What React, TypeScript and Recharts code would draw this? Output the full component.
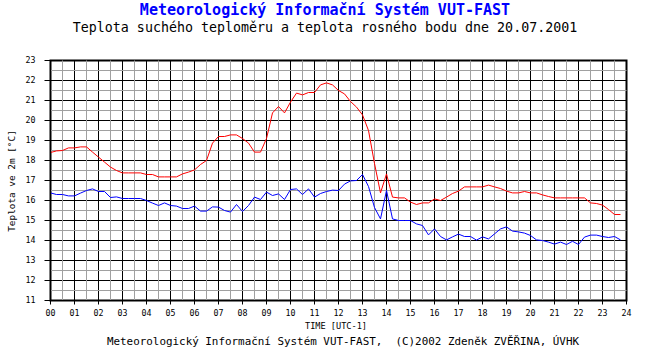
import { LineChart, Line, XAxis, YAxis, CartesianGrid, ReferenceArea, ReferenceLine } from 'recharts';

// 15-minute samples, 00:00 .. 23:45
const DRY_TEMP = [
  18.4, 18.48, 18.5, 18.63, 18.63, 18.68, 18.68, 18.42, // 00-01:45
  18.17, 17.92, 17.67, 17.5, 17.38, 17.38, 17.38, 17.38, // 02-03:45
  17.3, 17.3, 17.18, 17.18, 17.18, 17.18, 17.33, 17.42, // 04-05:45
  17.53, 17.8, 18.0, 18.87, 19.2, 19.2, 19.28, 19.28, // 06-07:45
  19.1, 18.87, 18.42, 18.42, 19.1, 20.38, 20.7, 20.38, // 08-09:45
  20.92, 21.37, 21.28, 21.4, 21.4, 21.78, 21.88, 21.78, // 10-11:45
  21.5, 21.33, 20.95, 20.67, 20.28, 19.5, 17.85, 16.38, // 12-13:45
  17.33, 16.17, 16.13, 16.13, 15.92, 15.8, 15.88, 15.88, // 14-15:45
  16.08, 16.0, 16.17, 16.35, 16.47, 16.68, 16.68, 16.68, // 16-17:45
  16.68, 16.77, 16.68, 16.6, 16.47, 16.38, 16.38, 16.45, // 18-19:45
  16.38, 16.38, 16.28, 16.2, 16.13, 16.13, 16.13, 16.13, // 20-21:45
  16.13, 16.13, 15.88, 15.85, 15.77, 15.55, 15.3, 15.3, // 22-23:45
];

const DEW_POINT = [
  16.38, 16.3, 16.3, 16.23, 16.23, 16.37, 16.5, 16.58,
  16.45, 16.45, 16.15, 16.18, 16.1, 16.1, 16.1, 16.1,
  16.0, 15.87, 15.75, 15.88, 15.75, 15.72, 15.6, 15.6,
  15.72, 15.47, 15.47, 15.68, 15.67, 15.5, 15.42, 15.8,
  15.45, 15.75, 16.17, 16.05, 16.42, 16.25, 16.33, 16.05,
  16.55, 16.58, 16.3, 16.58, 16.17, 16.35, 16.45, 16.52,
  16.5, 16.82, 16.98, 17.0, 17.3, 16.7, 15.65, 15.08,
  16.5, 15.08, 15.0, 15.0, 15.0, 14.83, 14.75, 14.28,
  14.58, 14.2, 14.03, 14.18, 14.32, 14.2, 14.2, 14.02,
  14.18, 14.08, 14.33, 14.58, 14.68, 14.47, 14.43, 14.37,
  14.25, 14.03, 14.0, 13.92, 13.82, 13.92, 13.8, 13.96,
  13.8, 14.17, 14.27, 14.27, 14.2, 14.15, 14.2, 14.03,
];

const HOUR_LABELS = [
  '00', '01', '02', '03', '04', '05', '06', '07', '08', '09', '10', '11', '12',
  '13', '14', '15', '16', '17', '18', '19', '20', '21', '22', '23', '24',
];
const HOUR_TICKS = HOUR_LABELS.map((_, i) => i);
const HALF_HOURS = HOUR_TICKS.slice(0, -1).map((h) => h + 0.5);

const TEMP_TICKS = [11, 12, 13, 14, 15, 16, 17, 18, 19, 20, 21, 22, 23];
const HALF_TEMPS = TEMP_TICKS.slice(0, -1).map((t) => t + 0.5);

const FONT = '"DejaVu Sans Mono", "Liberation Mono", monospace';
const MINOR = '#a0a0a0';

const data = DRY_TEMP.map((t, i) => ({
  time: i * 0.25,
  dry: t,
  dew: DEW_POINT[i],
}));

export default function App() {
  return (
    <div style={{ width: 650, height: 350, background: '#fff' }}>
      <style>{'body{margin:0}'}</style>
      <LineChart
        width={650}
        height={350}
        data={data}
        margin={{ top: 60.5, right: 23.5, bottom: 0, left: 10.5 }}
      >
        <XAxis
          type="number"
          dataKey="time"
          domain={[0, 24]}
          ticks={HOUR_TICKS}
          interval={0}
          height={49.5}
          tickSize={4}
          tickMargin={6}
          stroke="#000"
          tickFormatter={(v: number) => HOUR_LABELS[v]}
          tick={{ fill: '#000', fontSize: 8.3, fontFamily: FONT }}
        />
        <YAxis
          type="number"
          domain={[11, 23]}
          ticks={TEMP_TICKS}
          interval={0}
          width={40}
          tickSize={6}
          tickMargin={9}
          stroke="#000"
          tick={{ fill: '#000', fontSize: 8.3, fontFamily: FONT }}
        />

        {/* grey half-hour / half-degree grid */}
        {HALF_HOURS.map((h) => (
          <ReferenceLine key={'x' + h} x={h} stroke={MINOR} />
        ))}
        {HALF_TEMPS.map((t) => (
          <ReferenceLine key={'y' + t} y={t} stroke={MINOR} />
        ))}
        <CartesianGrid stroke="#000" />
        <ReferenceArea x1={0} x2={24} y1={11} y2={23} fill="none" stroke="#000" strokeWidth={2} ifOverflow="visible" />

        <Line dataKey="dew" stroke="#0000ff" strokeWidth={1} dot={false} isAnimationActive={false} />
        <Line dataKey="dry" stroke="#ff0000" strokeWidth={1} dot={false} isAnimationActive={false} />

        <text x={325} y={10} textAnchor="middle" dominantBaseline="middle" fill="#0000ff"
          style={{ fontFamily: FONT, fontSize: 15, fontWeight: 'bold' }}>
          Meteorologický Informační Systém VUT-FAST
        </text>
        <text x={325} y={28} textAnchor="middle" dominantBaseline="middle" fill="#000"
          style={{ fontFamily: FONT, fontSize: 13.3 }}>
          Teplota suchého teploměru a teplota rosného bodu dne 20.07.2001
        </text>
        <text x={12} y={181} textAnchor="middle" dominantBaseline="middle" fill="#000"
          transform="rotate(-90 12 181)" style={{ fontFamily: FONT, fontSize: 9.4 }}>
          Teplota ve 2m [°C]
        </text>
        <text x={336} y={326} textAnchor="middle" dominantBaseline="middle" fill="#000"
          style={{ fontFamily: FONT, fontSize: 8.6 }}>
          TIME [UTC-1]
        </text>
        <text x={343} y={342} textAnchor="middle" dominantBaseline="middle" fill="#000"
          style={{ fontFamily: FONT, fontSize: 10.9, whiteSpace: 'pre' }}>
          {'Meteorologický Informační Systém VUT-FAST,  (C)2002 Zdeněk ZVĚŘINA, ÚVHK'}
        </text>
      </LineChart>
    </div>
  );
}
